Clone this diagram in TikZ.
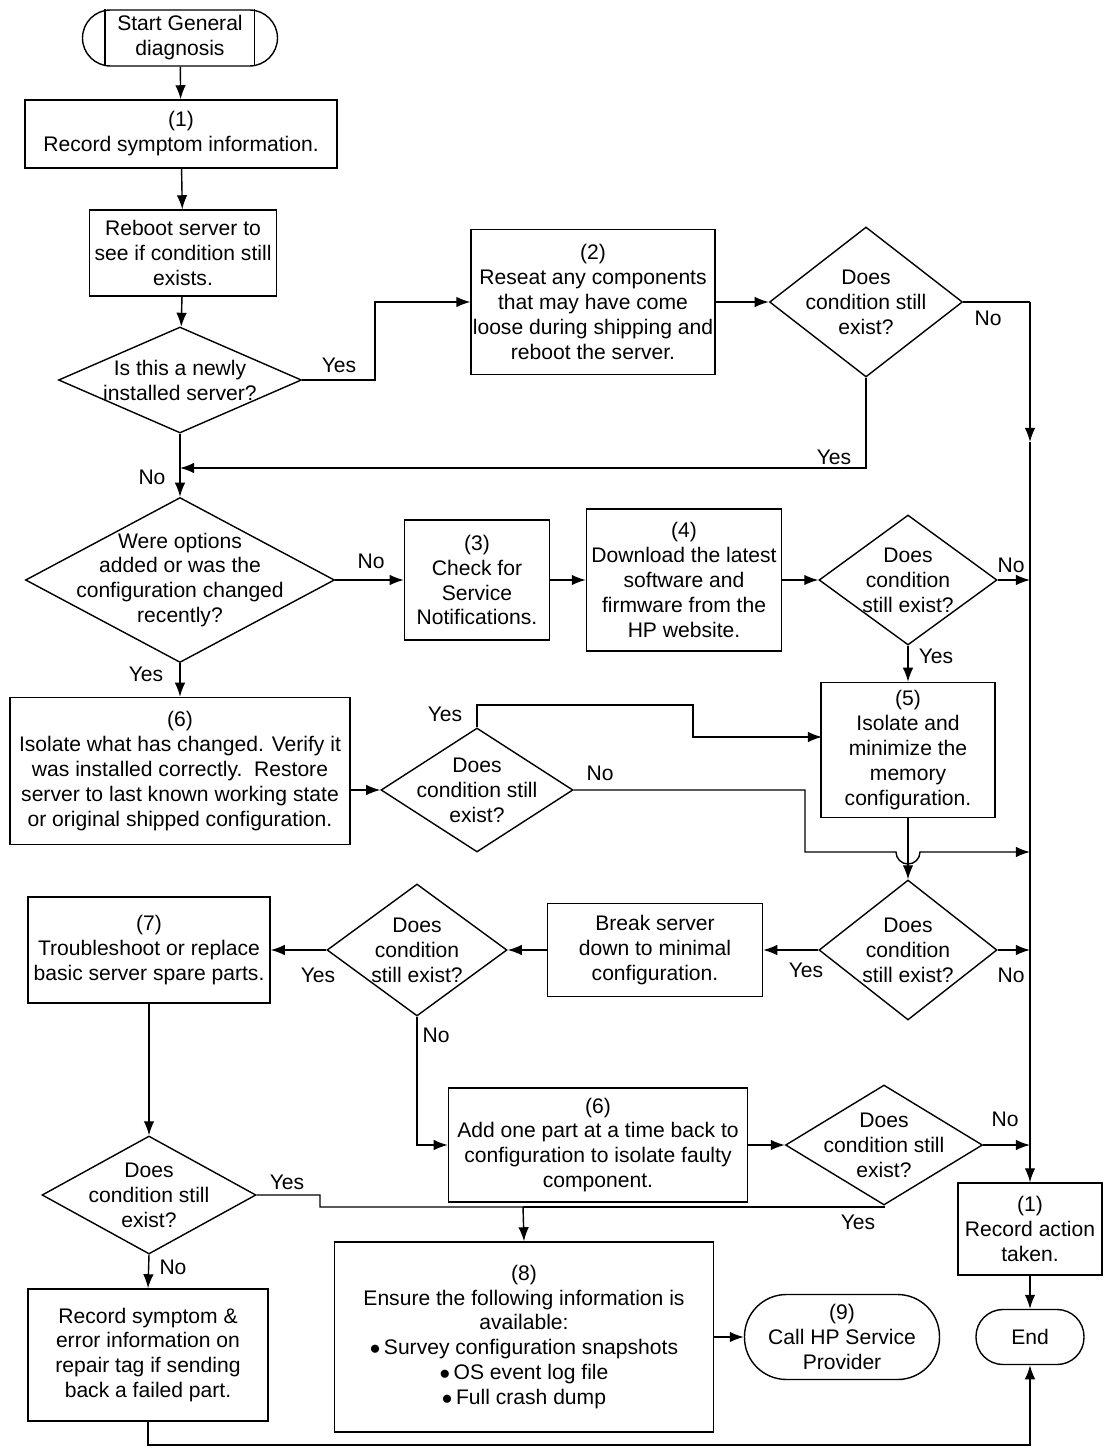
\documentclass[tikz,border=0pt]{standalone}
\usepackage{fontspec}
\setmainfont{Liberation Sans}
\usetikzlibrary{shapes.geometric,arrows.meta}
\tikzset{>={Latex[length=8pt,width=6pt]}}
\tikzset{box/.style={draw, rectangle, align=center, inner sep=1pt}}
\tikzset{dia/.style={draw, diamond, inner sep=0pt}}
\tikzset{lbl/.style={align=center}}
\tikzset{term/.style={draw, rounded corners=12pt, align=center}}

\begin{document}
\begin{tikzpicture}[x=0.02cm, y=-0.02cm, line width=0.8pt,
  font=\fontsize{12}{14.2}\selectfont]

\useasboundingbox (0,0) rectangle (1107,1453);

% start
\node[draw, rectangle, rounded corners=28*0.02cm, minimum width=195*0.02cm,
  minimum height=56*0.02cm] (start) at (180,38) {};
\draw (start.north west) ++(23,0) -- ++(0,56);
\draw (start.north east) ++(-24,0) -- ++(0,56);
\node[lbl] at (start) {Start General\\diagnosis};

% boxes
\node[box, minimum width=312*0.02cm, minimum height=68*0.02cm] (n1) at (181,134)
  {(1)\\Record symptom information.};
\node[box, minimum width=187*0.02cm, minimum height=86*0.02cm] (reboot) at (183,253)
  {Reboot server to\\see if condition still\\exists.};
\node[box, minimum width=242*0.02cm, minimum height=145*0.02cm] (n2) at (593,302)
  {(2)\\Reseat any components\\that may have come\\loose during shipping and\\reboot the server.};
\node[box, minimum width=145*0.02cm, minimum height=120*0.02cm] (n3) at (477,580)
  {(3)\\Check for\\Service\\Notifications.};
\node[box, minimum width=195*0.02cm, minimum height=142*0.02cm] (n4) at (684,580)
  {(4)\\Download the latest\\software and\\firmware from the\\HP website.};
\node[box, minimum width=174*0.02cm, minimum height=135*0.02cm] (n5) at (908,750)
  {(5)\\Isolate and\\minimize the\\memory\\configuration.};
\node[box, minimum width=340*0.02cm, minimum height=147*0.02cm] (n6a) at (180,771)
  {(6)\\Isolate what has changed. Verify it\\was installed correctly.\ \ Restore\\server to last known working state\\or original shipped configuration.};
\node[box, minimum width=215*0.02cm, minimum height=93*0.02cm] (brk) at (655,950)
  {Break server\\down to minimal\\configuration.};
\node[box, minimum width=242*0.02cm, minimum height=106*0.02cm] (n7) at (149,950)
  {(7)\\Troubleshoot or replace\\basic server spare parts.};
\node[box, minimum width=299*0.02cm, minimum height=114*0.02cm] (n6b) at (598,1145)
  {(6)\\Add one part at a time back to\\configuration to isolate faulty\\component.};
\node[box, minimum width=379*0.02cm, minimum height=190*0.02cm] (n8) at (524,1337)
  {(8)\\Ensure the following information is\\available:\\$\bullet$\,Survey configuration snapshots\\$\bullet$\,OS event log file\\$\bullet$\,Full crash dump};
\node[box, minimum width=144*0.02cm, minimum height=92*0.02cm] (rec) at (1030,1229)
  {(1)\\Record action\\taken.};
\node[box, minimum width=240*0.02cm, minimum height=132*0.02cm] (n10) at (148,1355)
  {Record symptom \&\\error information on\\repair tag if sending\\back a failed part.};
\node[term, rounded corners=42*0.02cm, minimum width=195*0.02cm, minimum height=85*0.02cm] (n9) at (842,1337)
  {(9)\\Call HP Service\\Provider};
\node[term, rounded corners=27*0.02cm, minimum width=108*0.02cm, minimum height=55*0.02cm] (end) at (1030,1337)
  {End};

% decisions
\node[dia, minimum width=243*0.02cm, minimum height=106*0.02cm] (d1) at (180,380) {};
\node[lbl] at (d1) {Is this a newly\\installed server?};
\node[dia, minimum width=193*0.02cm, minimum height=150*0.02cm] (d2) at (866,302) {};
\node[lbl] at (d2) {Does\\condition still\\exist?};
\node[dia, minimum width=309*0.02cm, minimum height=165*0.02cm] (d3) at (180,580) {};
\node[lbl] at (d3) {Were options\\added or was the\\configuration changed\\recently?};
\node[dia, minimum width=178*0.02cm, minimum height=130*0.02cm] (d4) at (908,580) {};
\node[lbl] at (d4) {Does\\condition\\still exist?};
\node[dia, minimum width=192*0.02cm, minimum height=124*0.02cm] (d5) at (477,790) {};
\node[lbl] at (d5) {Does\\condition still\\exist?};
\node[dia, minimum width=178*0.02cm, minimum height=140*0.02cm] (d6) at (908,950) {};
\node[lbl] at (d6) {Does\\condition\\still exist?};
\node[dia, minimum width=180*0.02cm, minimum height=132*0.02cm] (d7) at (417,950) {};
\node[lbl] at (d7) {Does\\condition\\still exist?};
\node[dia, minimum width=214*0.02cm, minimum height=118*0.02cm] (d8) at (149,1195) {};
\node[lbl] at (d8) {Does\\condition still\\exist?};
\node[dia, minimum width=197*0.02cm, minimum height=120*0.02cm] (d9) at (884,1145) {};
\node[lbl] at (d9) {Does\\condition still\\exist?};

% connectors
\draw[->] (start) -- (n1);
\draw[->] (n1) -- (reboot);
\draw[->] (reboot) -- (d1);
\draw[->] (d1.east) -- (375,380) |- (n2.west);
\node at (339,365) {Yes};
\draw[->] (n2) -- (d2);
\draw (d2.east) -- (1030,302);
\draw[->] (1030,302) -- (1030,442);
\draw[->] (1030,442) -- (rec.north);
\node at (988,318) {No};
\draw[->] (d2.south) |- (180,468);
\node at (834,457) {Yes};
\draw[->] (d1.south) -- (d3.north);
\node at (152,477) {No};
\draw[->] (d3.east) -- (n3.west);
\node at (371,561) {No};
\draw[->] (n3) -- (n4);
\draw[->] (n4.east) -- (d4.west);
\draw[->] (d4.east) -- (1030,580);
\node at (1011,565) {No};
\draw[->] (d4.south) -- (n5.north);
\node at (936,656) {Yes};
\draw[->] (d3.south) -- (n6a.north);
\node at (146,674) {Yes};
\draw[->] (n6a.east |- d5.west) -- (d5.west);
\draw[->] (d5.north) -- (477,705) -- (693,705) -- (693,737) -- (822,737);
\node at (445,714) {Yes};
\draw[->] (d5.east) -- (805,790) -- (805,852) -- (896,852)
  arc (180:0:12) -- (1030,852);
\node at (600,773) {No};
\draw[->] (n5.south) -- (d6.north);
\draw[->] (d6.west) -- (brk.east);
\node at (806,970) {Yes};
\draw[->] (d6.east) -- (1030,950);
\node at (1011,975) {No};
\draw[->] (brk.west) -- (d7.east);
\draw[->] (d7.west) -- (n7.east);
\node at (318,975) {Yes};
\draw[->] (d7.south) |- (n6b.west);
\node at (436,1035) {No};
\draw[->] (n6b.east) -- (d9.west);
\draw[->] (d9.east) -- (1030,1145);
\node at (1005,1119) {No};
\draw (d9.south) |- (523,1207);
\node at (858,1222) {Yes};
\draw[->] (n7.south) -- (d8.north);
\draw[->] (d8.east) -- (320,1195) |- (523,1207) -- (n8.north);
\node at (287,1182) {Yes};
\draw[->] (d8.south) -- (n10.north);
\node at (173,1267) {No};
\draw[->] (n8.east) -- (n9.west);
\draw[->] (rec.south) -- (end.north);
\draw[->] (n10.south) |- (1030,1445) -- (end.south);

\end{tikzpicture}
\end{document}
